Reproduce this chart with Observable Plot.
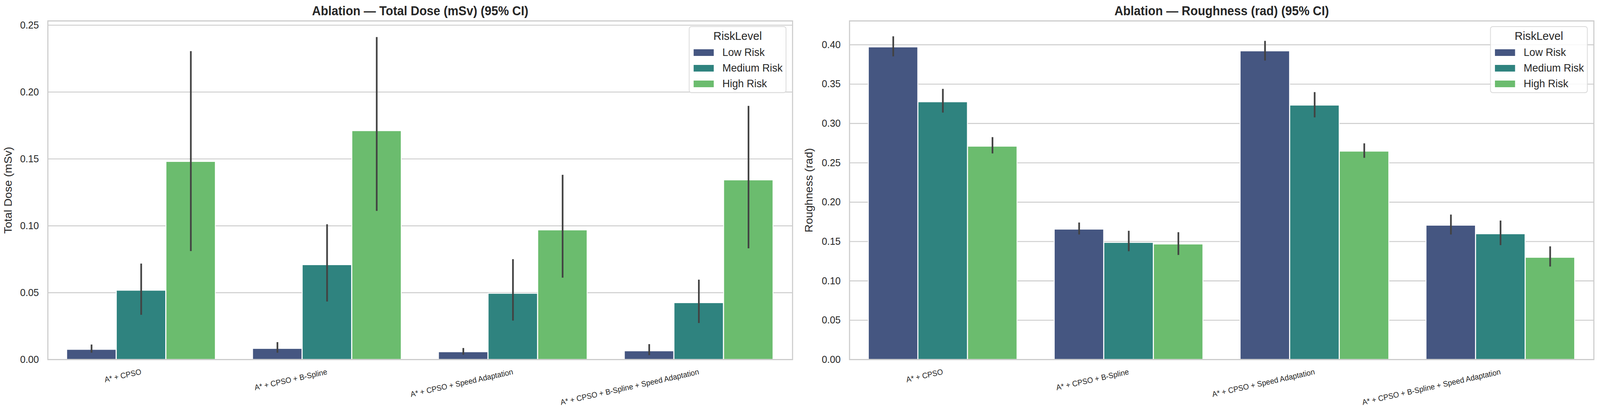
<!DOCTYPE html>
<html>
<head>
<meta charset="utf-8">
<script src="https://cdn.jsdelivr.net/npm/d3@7"></script>
<script src="https://cdn.jsdelivr.net/npm/@observablehq/plot@0.6"></script>
<style>
  html, body { margin: 0; padding: 0; background: #fff; overflow: hidden; }
  #wrap { position: relative; width: 4295px; height: 1051px; font-family: "Liberation Sans", Arial, sans-serif; color: #262626; overflow: hidden; transform-origin: 0 0; }
  .panel { position: absolute; top: 0; }
  .legend { position: absolute; box-sizing: border-box; background: rgba(255,255,255,0.85); border: 2px solid #d9d9d9; border-radius: 7px; }
  .legend .ttl { position: absolute; left: 0; right: 0; text-align: center; font-size: 30px; line-height: 1; }
  .legend .row { position: absolute; left: 11px; display: flex; align-items: center; font-size: 28px; line-height: 1; }
  .legend .sw { width: 54px; height: 17px; margin-right: 23px; }
</style>
</head>
<body>
<div id="wrap"></div>
<script>
// ---- data ----
const categories = [
  "A* + CPSO",
  "A* + CPSO + B-Spline",
  "A* + CPSO + Speed Adaptation",
  "A* + CPSO + B-Spline + Speed Adaptation"
];
const riskLevels = ["Low Risk", "Medium Risk", "High Risk"];
const riskPalette = ["#455681", "#2f837f", "#6bbc6e"];

// Total Dose (mSv): mean and 95% CI per risk level, in category order
const doseMean = {
  "Low Risk":    [0.0075, 0.0082, 0.0057, 0.0064],
  "Medium Risk": [0.0517, 0.0708, 0.0494, 0.0424],
  "High Risk":   [0.1480, 0.1710, 0.0968, 0.1342]
};
const doseLo = {
  "Low Risk":    [0.0050, 0.0050, 0.0035, 0.0032],
  "Medium Risk": [0.0333, 0.0433, 0.0290, 0.0272],
  "High Risk":   [0.0810, 0.1110, 0.0611, 0.0830]
};
const doseHi = {
  "Low Risk":    [0.0111, 0.0129, 0.0085, 0.0114],
  "Medium Risk": [0.0716, 0.1010, 0.0749, 0.0596],
  "High Risk":   [0.2305, 0.2410, 0.1380, 0.1895]
};

// Roughness (rad)
const roughMean = {
  "Low Risk":    [0.3970, 0.1655, 0.3920, 0.1705],
  "Medium Risk": [0.3273, 0.1486, 0.3231, 0.1596],
  "High Risk":   [0.2709, 0.1466, 0.2646, 0.1297]
};
const roughLo = {
  "Low Risk":    [0.3850, 0.1587, 0.3797, 0.1587],
  "Medium Risk": [0.3136, 0.1374, 0.3075, 0.1452],
  "High Risk":   [0.2617, 0.1327, 0.2561, 0.1180]
};
const roughHi = {
  "Low Risk":    [0.4105, 0.1739, 0.4047, 0.1840],
  "Medium Risk": [0.3437, 0.1634, 0.3396, 0.1764],
  "High Risk":   [0.2824, 0.1616, 0.2745, 0.1436]
};

const doseTicks = [0, 0.05, 0.10, 0.15, 0.20, 0.25];
const roughTicks = [0, 0.05, 0.10, 0.15, 0.20, 0.25, 0.30, 0.35, 0.40];

// ---- panel builder ----
function buildRows(mean, lo, hi) {
  const rows = [];
  categories.forEach((c, j) => {
    riskLevels.forEach((r) => {
      rows.push({category: c, risk: r, mean: mean[r][j], lo: lo[r][j], hi: hi[r][j]});
    });
  });
  return rows;
}

function makePanel(cfg) {
  const {title, yLabel, mean, lo, hi, yMax, ticks, left, width, height, marginLeft, marginRight, marginTop, marginBottom, labelOffset} = cfg;
  const rows = buildRows(mean, lo, hi);
  const inner = width - marginLeft - marginRight;
  const paddingInner = 0.2, paddingOuter = 0.1;
  const step = inner / (categories.length - paddingInner + 2 * paddingOuter);
  const sub = step * (1 - paddingInner) / riskLevels.length;

  const marks = [
    Plot.gridY(ticks, {stroke: "#cccccc", strokeOpacity: 1, strokeWidth: 2.3})
  ];
  riskLevels.forEach((r, i) => {
    marks.push(Plot.barY(rows.filter(d => d.risk === r), {
      x: "category", y: "mean", fill: "risk",
      insetLeft: i * sub, insetRight: (riskLevels.length - 1 - i) * sub,
      stroke: "white", strokeWidth: 2.3
    }));
  });
  marks.push(Plot.frame({stroke: "#cccccc", strokeWidth: 2.9}));
  riskLevels.forEach((r, i) => {
    marks.push(Plot.ruleX(rows.filter(d => d.risk === r), {
      x: "category", y1: "lo", y2: "hi",
      dx: (i - (riskLevels.length - 1) / 2) * sub,
      stroke: "#424242", strokeWidth: 4.5
    }));
  });
  marks.push(
    Plot.axisY({ticks, tickFormat: ".2f", tickSize: 0, tickPadding: 24, fontSize: 26, label: null}),
    Plot.text([yLabel], {frameAnchor: "left", rotate: -90, dx: -labelOffset,
      lineAnchor: "top", textAnchor: "middle", fontSize: 29, fill: "#262626"}),
    Plot.axisX({tickRotate: -12, tickSize: 0, tickPadding: 31, fontSize: 20, label: null}),
    Plot.text([title], {frameAnchor: "top", dy: -15, lineAnchor: "bottom",
      fontWeight: "bold", fontSize: 32.5, fill: "#262626"})
  );

  const chart = Plot.plot({
    width, height, marginLeft, marginRight, marginTop, marginBottom,
    style: {fontFamily: "Liberation Sans, Arial, sans-serif", color: "#262626", background: "white", overflow: "visible", maxWidth: "none"},
    x: {type: "band", domain: categories, paddingInner, paddingOuter, label: null},
    y: {domain: [0, yMax], label: null},
    color: {domain: riskLevels, range: riskPalette},
    marks
  });

  const holder = document.createElement("div");
  holder.className = "panel";
  holder.style.left = left + "px";
  holder.style.width = width + "px";
  holder.appendChild(chart);

  // legend (upper right, inside the frame)
  const color = chart.scale("color");
  const lg = document.createElement("div");
  lg.className = "legend";
  const lgW = 262, lgH = 171;
  lg.style.width = lgW + "px";
  lg.style.height = lgH + "px";
  lg.style.left = (width - marginRight - 16 - lgW) + "px";
  lg.style.top = (marginTop + 14) + "px";
  const t = document.createElement("div");
  t.className = "ttl";
  t.style.top = "8px";
  t.textContent = "RiskLevel";
  lg.appendChild(t);
  riskLevels.forEach((r, i) => {
    const row = document.createElement("div");
    row.className = "row";
    row.style.top = (51 + i * 40) + "px";
    const sw = document.createElement("div");
    sw.className = "sw";
    sw.style.background = color.apply(r);
    const lab = document.createElement("span");
    lab.textContent = r;
    row.appendChild(sw);
    row.appendChild(lab);
    lg.appendChild(row);
  });
  holder.appendChild(lg);
  document.getElementById("wrap").appendChild(holder);
}

makePanel({
  title: "Ablation \u2014 Total Dose (mSv) (95% CI)",
  yLabel: "Total Dose (mSv)",
  mean: doseMean, lo: doseLo, hi: doseHi,
  yMax: 0.2532, ticks: doseTicks,
  left: 0, width: 2148, height: 1051,
  marginLeft: 128, marginRight: 21, marginTop: 53, marginBottom: 132,
  labelOffset: 118
});

makePanel({
  title: "Ablation \u2014 Roughness (rad) (95% CI)",
  yLabel: "Roughness (rad)",
  mean: roughMean, lo: roughLo, hi: roughHi,
  yMax: 0.4303, ticks: roughTicks,
  left: 2148, width: 2147, height: 1051,
  marginLeft: 132, marginRight: 17, marginTop: 53, marginBottom: 132,
  labelOffset: 120
});

// the viewport may be narrower than the 4295x1051 design: stretch it to fill
const wrap = document.getElementById("wrap");
const vw = document.documentElement.clientWidth || window.innerWidth;
const vh = document.documentElement.clientHeight || window.innerHeight;
wrap.style.transform = `scale(${vw / 4295}, ${vh / 1051})`;
</script>
</body>
</html>
